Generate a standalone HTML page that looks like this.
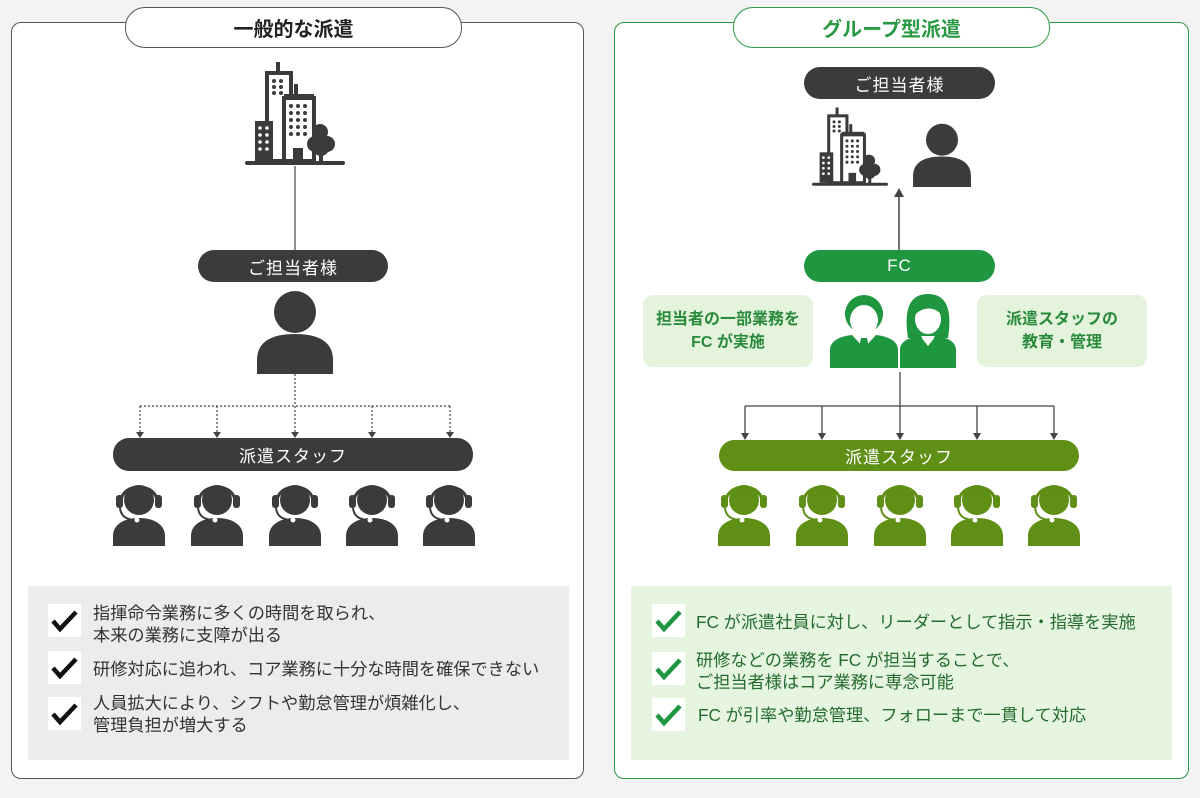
<!DOCTYPE html>
<html><head><meta charset="utf-8">
<style>
*{margin:0;padding:0;box-sizing:border-box}
body{width:1200px;height:798px;background:#f3f3f3;font-family:"Liberation Sans","Noto Sans CJK JP",sans-serif;position:relative;overflow:hidden}
.abs{position:absolute}
.panel{position:absolute;top:22px;height:757px;background:#fff;border-radius:10px}
.title{position:absolute;top:7px;height:41px;background:#fff;border-radius:20px;font-size:20px;font-weight:bold;display:flex;align-items:center;justify-content:center}
.pill{position:absolute;height:32px;border-radius:16px;color:#fff;font-size:17px;display:flex;align-items:center;justify-content:center;letter-spacing:1px}
.box{position:absolute;top:586px;height:174px}
.item{position:absolute;font-size:17.2px;line-height:22px;white-space:nowrap}
.chk{position:absolute;width:33px;height:33px;background:#fff}
.call{position:absolute;top:295px;width:170px;height:72px;background:#e3f3dc;border-radius:10px;color:#2a8a3c;font-weight:bold;font-size:16px;line-height:23px;display:flex;align-items:center;justify-content:center;text-align:center}
</style></head><body>
<svg width="0" height="0" style="position:absolute">
<defs>
<symbol id="bld" viewBox="0 0 100 104">
<rect x="31" y="0" width="4" height="12" fill="#3b3b3b"/>
<rect x="22" y="11" width="24" height="88" fill="#fff" stroke="#3b3b3b" stroke-width="4"/>
<g fill="#3b3b3b"><circle cx="29" cy="19" r="2"/><circle cx="36" cy="19" r="2"/><circle cx="29" cy="25" r="2"/><circle cx="36" cy="25" r="2"/><circle cx="29" cy="31" r="2"/><circle cx="36" cy="31" r="2"/></g>
<rect x="49" y="22" width="4" height="12" fill="#3b3b3b"/>
<rect x="39" y="32" width="30" height="6" fill="#3b3b3b"/>
<rect x="39" y="36" width="30" height="63" fill="#fff" stroke="#3b3b3b" stroke-width="4"/>
<g fill="#3b3b3b">
<circle cx="46" cy="44" r="2"/><circle cx="53" cy="44" r="2"/><circle cx="60" cy="44" r="2"/>
<circle cx="46" cy="51" r="2"/><circle cx="53" cy="51" r="2"/><circle cx="60" cy="51" r="2"/>
<circle cx="46" cy="58" r="2"/><circle cx="53" cy="58" r="2"/><circle cx="60" cy="58" r="2"/>
<circle cx="46" cy="65" r="2"/><circle cx="53" cy="65" r="2"/><circle cx="60" cy="65" r="2"/>
<circle cx="46" cy="72" r="2"/><circle cx="53" cy="72" r="2"/><circle cx="60" cy="72" r="2"/>
<rect x="48" y="86" width="10" height="13"/>
<rect x="10" y="59" width="18" height="40"/>
<circle cx="75" cy="70" r="8"/><circle cx="70" cy="82" r="8"/><circle cx="82" cy="82" r="8"/><circle cx="76" cy="86" r="8"/>
<rect x="74" y="86" width="4" height="14"/>
<rect x="0" y="99" width="100" height="4" rx="2"/>
</g>
<g fill="#fff"><circle cx="15" cy="66" r="1.8"/><circle cx="22" cy="66" r="1.8"/><circle cx="15" cy="73" r="1.8"/><circle cx="22" cy="73" r="1.8"/><circle cx="15" cy="80" r="1.8"/><circle cx="22" cy="80" r="1.8"/><circle cx="15" cy="87" r="1.8"/><circle cx="22" cy="87" r="1.8"/></g>
</symbol>
<symbol id="per" viewBox="0 0 76 84">
<circle cx="38" cy="22" r="21"/>
<path d="M0 84 V70 C0 52 14 44 38 44 C62 44 76 52 76 70 V84 Z"/>
</symbol>
<symbol id="hs" viewBox="0 0 52 68">
<circle cx="26" cy="22" r="15"/>
<path d="M8 24 C8 4 44 4 44 24" fill="none" stroke="currentColor" stroke-width="3"/>
<rect x="3" y="17" width="7" height="13" rx="3"/>
<rect x="42" y="17" width="7" height="13" rx="3"/>
<path d="M7 30 C8 40 16 42 24 42" fill="none" stroke="currentColor" stroke-width="2"/>
<path d="M0 68 V58 C0 46 12 40 26 40 C40 40 52 46 52 58 V68 Z"/>
<circle cx="24" cy="42" r="2.5" fill="#fff"/>
</symbol>
</defs>
</svg>

<!-- LEFT -->
<div class="panel" style="left:11px;width:573px;border:1.5px solid #555"></div>
<div class="title" style="left:125px;width:337px;border:1.5px solid #555;color:#222">一般的な派遣</div>
<svg class="abs" style="left:245px;top:62px" width="100" height="104"><use href="#bld"/></svg>
<div class="pill" style="left:198px;top:250px;width:190px;background:#3b3b3b">ご担当者様</div>
<svg class="abs" style="left:257px;top:290px;fill:#3b3b3b" width="76" height="84"><use href="#per"/></svg>
<div class="pill" style="left:113px;top:438px;width:360px;height:33px;background:#3b3b3b">派遣スタッフ</div>
<div style="color:#3b3b3b;fill:#3b3b3b">
<svg class="abs" style="left:113px;top:478px" width="52" height="68"><use href="#hs"/></svg>
<svg class="abs" style="left:191px;top:478px" width="52" height="68"><use href="#hs"/></svg>
<svg class="abs" style="left:269px;top:478px" width="52" height="68"><use href="#hs"/></svg>
<svg class="abs" style="left:346px;top:478px" width="52" height="68"><use href="#hs"/></svg>
<svg class="abs" style="left:423px;top:478px" width="52" height="68"><use href="#hs"/></svg>
</div>
<div class="box" style="left:28px;width:541px;background:#ececec"></div>
<div class="chk" style="left:48px;top:604px"><svg width="33" height="33"><path d="M5 17l7 8 16-17" fill="none" stroke="#111" stroke-width="4.5"/></svg></div>
<div class="chk" style="left:48px;top:651px"><svg width="33" height="33"><path d="M5 17l7 8 16-17" fill="none" stroke="#111" stroke-width="4.5"/></svg></div>
<div class="chk" style="left:48px;top:697px"><svg width="33" height="33"><path d="M5 17l7 8 16-17" fill="none" stroke="#111" stroke-width="4.5"/></svg></div>
<div class="item" style="left:93px;top:602px;color:#333">指揮命令業務に多くの時間を取られ、<br>本来の業務に支障が出る</div>
<div class="item" style="left:93px;top:658px;color:#333">研修対応に追われ、コア業務に十分な時間を確保できない</div>
<div class="item" style="left:93px;top:692px;color:#333">人員拡大により、シフトや勤怠管理が煩雑化し、<br>管理負担が増大する</div>

<!-- RIGHT -->
<div class="panel" style="left:614px;width:575px;border:1.5px solid #2a9a45"></div>
<div class="title" style="left:733px;width:317px;border:1.5px solid #2a9a45;color:#2a9a45">グループ型派遣</div>
<div class="pill" style="left:804px;top:67px;width:191px;background:#3b3b3b">ご担当者様</div>
<svg class="abs" style="left:812px;top:107px" width="76" height="80"><use href="#bld"/></svg>
<svg class="abs" style="left:913px;top:123px;fill:#3b3b3b" width="58" height="64"><use href="#per"/></svg>
<div class="pill" style="left:804px;top:250px;width:191px;background:#1f9640">FC</div>
<div class="call" style="left:643px">担当者の一部業務を<br>FC が実施</div>
<div class="call" style="left:977px">派遣スタッフの<br>教育・管理</div>
<svg class="abs" style="left:830px;top:292px" width="132" height="76" viewBox="0 0 132 76">
<g fill="#1f9640">
<!-- man -->
<circle cx="34" cy="22" r="19"/>
<path d="M0 76 V58 C0 48 12 44 22 43 L34 56 L46 43 C56 44 68 48 68 58 V76Z"/>
<!-- woman -->
<path d="M78 46 C74 20 78 2 98 2 C118 2 122 20 118 46 Z"/>
<path d="M70 76 V58 C70 48 82 45 90 44 L98 54 L106 44 C114 45 126 48 126 58 V76Z"/>
</g>
<g fill="#fff">
<ellipse cx="34" cy="28" rx="14" ry="15"/>
<path d="M26 44 L34 56 L42 44 Z"/>
<ellipse cx="98" cy="27" rx="13" ry="15"/>
<path d="M91 44 L98 53 L105 44 Z"/>
</g>
<g fill="#1f9640">
<path d="M15 24 C13 2 55 2 53 24 C50 12 36 14 28 10 C24 14 18 16 15 24Z"/>
<path d="M31 46 h6 l2 10 -5 8 -5 -8z"/>
<path d="M84 24 C84 8 112 8 112 24 C106 14 92 14 84 24Z"/>
</g>
</svg>
<div class="pill" style="left:719px;top:440px;width:360px;height:31px;background:#5f8f14">派遣スタッフ</div>
<div style="color:#5f8f14;fill:#5f8f14">
<svg class="abs" style="left:718px;top:478px" width="52" height="68"><use href="#hs"/></svg>
<svg class="abs" style="left:796px;top:478px" width="52" height="68"><use href="#hs"/></svg>
<svg class="abs" style="left:874px;top:478px" width="52" height="68"><use href="#hs"/></svg>
<svg class="abs" style="left:951px;top:478px" width="52" height="68"><use href="#hs"/></svg>
<svg class="abs" style="left:1028px;top:478px" width="52" height="68"><use href="#hs"/></svg>
</div>
<div class="box" style="left:631px;width:541px;background:#e5f5df"></div>
<div class="chk" style="left:652px;top:604px"><svg width="33" height="33"><path d="M5 17l7 8 16-17" fill="none" stroke="#1f9640" stroke-width="4.5"/></svg></div>
<div class="chk" style="left:652px;top:652px"><svg width="33" height="33"><path d="M5 17l7 8 16-17" fill="none" stroke="#1f9640" stroke-width="4.5"/></svg></div>
<div class="chk" style="left:652px;top:698px"><svg width="33" height="33"><path d="M5 17l7 8 16-17" fill="none" stroke="#1f9640" stroke-width="4.5"/></svg></div>
<div class="item" style="left:696px;top:611px;color:#256b30">FC が派遣社員に対し、リーダーとして指示・指導を実施</div>
<div class="item" style="left:696px;top:649px;color:#256b30">研修などの業務を FC が担当することで、<br>ご担当者様はコア業務に専念可能</div>
<div class="item" style="left:698px;top:704px;color:#256b30">FC が引率や勤怠管理、フォローまで一貫して対応</div>

<!-- connectors on top -->
<svg class="abs" style="left:0;top:0;pointer-events:none" width="1200" height="798">
<line x1="295" y1="166" x2="295" y2="250" stroke="#444" stroke-width="1.2"/>
<g stroke="#444" stroke-width="1.2" stroke-dasharray="2,2" fill="none">
<line x1="295" y1="374" x2="295" y2="432"/>
<line x1="140" y1="406" x2="450" y2="406"/>
<line x1="140" y1="406" x2="140" y2="432"/><line x1="217" y1="406" x2="217" y2="432"/><line x1="372" y1="406" x2="372" y2="432"/><line x1="450" y1="406" x2="450" y2="432"/>
</g>
<g fill="#444"><path d="M136 432h8l-4 6z"/><path d="M213 432h8l-4 6z"/><path d="M291 432h8l-4 6z"/><path d="M368 432h8l-4 6z"/><path d="M446 432h8l-4 6z"/></g>
<line x1="899" y1="250" x2="899" y2="196" stroke="#444" stroke-width="1.5"/>
<path d="M894 197h10l-5 -9z" fill="#444"/>
<g stroke="#444" stroke-width="1.3"><line x1="900" y1="372" x2="900" y2="434"/><line x1="745" y1="406" x2="1054" y2="406"/>
<line x1="745" y1="406" x2="745" y2="434"/><line x1="822" y1="406" x2="822" y2="434"/><line x1="977" y1="406" x2="977" y2="434"/><line x1="1054" y1="406" x2="1054" y2="434"/></g>
<g fill="#444"><path d="M741 433h8l-4 7z"/><path d="M818 433h8l-4 7z"/><path d="M896 433h8l-4 7z"/><path d="M973 433h8l-4 7z"/><path d="M1050 433h8l-4 7z"/></g>
</svg>
</body></html>
